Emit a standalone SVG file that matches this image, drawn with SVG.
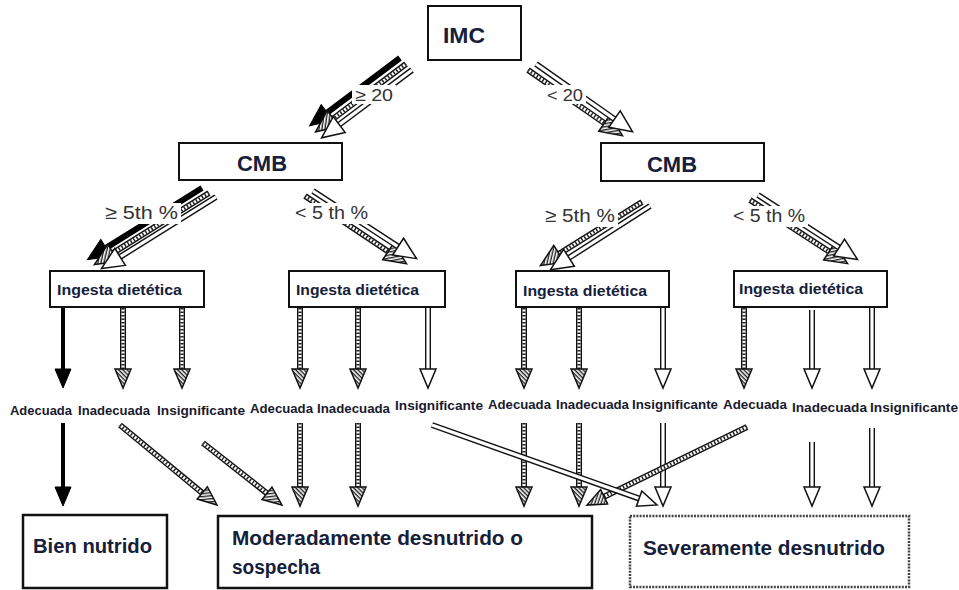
<svg xmlns="http://www.w3.org/2000/svg" width="959" height="590" viewBox="0 0 959 590">
<style>
.box{fill:#fff;stroke:#111;stroke-width:2}
.bbox{fill:#fff;stroke:#111;stroke-width:2.5}
.dbox{fill:#fff;stroke:#444;stroke-width:2.5;stroke-dasharray:2 1.2}
.nt{font-family:"Liberation Sans",Arial,sans-serif;font-weight:bold;fill:#16203a}
.lab{font-family:"Liberation Sans",Arial,sans-serif;font-weight:bold;font-size:13px;fill:#1a1a2e}
.el{font-family:"Liberation Sans",Arial,sans-serif;fill:#333}
.ho{stroke:#111;stroke-width:6;fill:none}
.hw{stroke:#fff;stroke-width:3.2;fill:none}
.hd{stroke:#222;stroke-width:3.2;stroke-dasharray:1.5 2;fill:none}
.so{stroke:#000;stroke-width:4;fill:none}
.sb{stroke:#000;stroke-width:6;fill:none}
</style>
<defs>
<pattern id="hatch" width="3" height="3" patternUnits="userSpaceOnUse" patternTransform="rotate(45)"><rect width="3" height="3" fill="#fff"/><rect width="1.4" height="3" fill="#222"/></pattern>
<marker id="mh" markerUnits="userSpaceOnUse" markerWidth="22" markerHeight="20" viewBox="-1 -10 22 20" refX="0" refY="0" orient="auto" overflow="visible"><path d="M0,-8 L19,0 L0,8 Z" fill="url(#hatch)" stroke="#111" stroke-width="1.5"/></marker>
<marker id="mo" markerUnits="userSpaceOnUse" markerWidth="22" markerHeight="20" viewBox="-1 -10 22 20" refX="0" refY="0" orient="auto" overflow="visible"><path d="M0,-8 L19,0 L0,8 Z" fill="#fff" stroke="#111" stroke-width="1.5"/></marker>
<marker id="ms" markerUnits="userSpaceOnUse" markerWidth="22" markerHeight="20" viewBox="-1 -10 22 20" refX="0" refY="0" orient="auto" overflow="visible"><path d="M0,-8 L19,0 L0,8 Z" fill="#000" stroke="#000" stroke-width="1"/></marker>
<marker id="mhL" markerUnits="userSpaceOnUse" markerWidth="26" markerHeight="24" viewBox="-1 -12 26 24" refX="0" refY="0" orient="auto" overflow="visible"><path d="M0,-10 L22,0 L0,10 Z" fill="url(#hatch)" stroke="#111" stroke-width="1.5"/></marker>
<marker id="moL" markerUnits="userSpaceOnUse" markerWidth="26" markerHeight="24" viewBox="-1 -12 26 24" refX="0" refY="0" orient="auto" overflow="visible"><path d="M0,-10 L22,0 L0,10 Z" fill="#fff" stroke="#111" stroke-width="1.5"/></marker>
<marker id="msL" markerUnits="userSpaceOnUse" markerWidth="26" markerHeight="24" viewBox="-1 -12 26 24" refX="0" refY="0" orient="auto" overflow="visible"><path d="M0,-10 L22,0 L0,10 Z" fill="#000" stroke="#000" stroke-width="1"/></marker>
</defs>
<rect width="959" height="590" fill="#fff"/>

<g id="connectors">
<!-- IMC to left CMB -->
<g><path class="sb" d="M400,58 L327.2,112.6" marker-end="url(#msL)"/></g>
<g><path class="ho" d="M406,64 L333.2,118.6"/><path class="hw" d="M406,64 L333.2,118.6"/><path class="hd" d="M406,64 L333.2,118.6" marker-end="url(#mhL)"/></g>
<g><path class="ho" d="M412,70 L339.2,124.6"/><path class="hw" d="M412,70 L339.2,124.6" marker-end="url(#moL)"/></g>
<!-- IMC to right CMB -->
<g><path class="ho" d="M528,70 L604.4,123.1"/><path class="hw" d="M528,70 L604.4,123.1"/><path class="hd" d="M528,70 L604.4,123.1" marker-end="url(#mhL)"/></g>
<g><path class="ho" d="M536,64 L614.5,119.1"/><path class="hw" d="M536,64 L614.5,119.1" marker-end="url(#moL)"/></g>
<!-- left CMB to box1 -->
<g><path class="sb" d="M202,188 L106.1,247.9" marker-end="url(#msL)"/></g>
<g><path class="ho" d="M209,193 L113.1,252.9"/><path class="hw" d="M209,193 L113.1,252.9"/><path class="hd" d="M209,193 L113.1,252.9" marker-end="url(#mhL)"/></g>
<g><path class="ho" d="M216,197 L120.1,256.9"/><path class="hw" d="M216,197 L120.1,256.9" marker-end="url(#moL)"/></g>
<!-- left CMB to box2 -->
<g><path class="ho" d="M305,196 L388.2,251.5"/><path class="hw" d="M305,196 L388.2,251.5"/><path class="hd" d="M305,196 L388.2,251.5" marker-end="url(#mhL)"/></g>
<g><path class="ho" d="M313,191 L398.1,246.6"/><path class="hw" d="M313,191 L398.1,246.6" marker-end="url(#moL)"/></g>
<!-- right CMB to box3 -->
<g><path class="ho" d="M642,202 L559.1,253.9"/><path class="hw" d="M642,202 L559.1,253.9"/><path class="hd" d="M642,202 L559.1,253.9" marker-end="url(#mhL)"/></g>
<g><path class="ho" d="M650,206 L569,257.8"/><path class="hw" d="M650,206 L569,257.8" marker-end="url(#moL)"/></g>
<!-- right CMB to box4 -->
<g><path class="ho" d="M750,200 L829.1,251.6"/><path class="hw" d="M750,200 L829.1,251.6"/><path class="hd" d="M750,200 L829.1,251.6" marker-end="url(#mhL)"/></g>
<g><path class="ho" d="M758,195 L839.1,247.6"/><path class="hw" d="M758,195 L839.1,247.6" marker-end="url(#moL)"/></g>

<!-- ingesta to categories -->
<g><path class="so" d="M63,308 L63,369" marker-end="url(#ms)"/></g>
<g><path class="ho" d="M123,308 L123,369"/><path class="hw" d="M123,308 L123,369"/><path class="hd" d="M123,308 L123,369" marker-end="url(#mh)"/></g>
<g><path class="ho" d="M182,308 L182,369"/><path class="hw" d="M182,308 L182,369"/><path class="hd" d="M182,308 L182,369" marker-end="url(#mh)"/></g>
<g><path class="ho" d="M300,308 L300,369"/><path class="hw" d="M300,308 L300,369"/><path class="hd" d="M300,308 L300,369" marker-end="url(#mh)"/></g>
<g><path class="ho" d="M358,308 L358,369"/><path class="hw" d="M358,308 L358,369"/><path class="hd" d="M358,308 L358,369" marker-end="url(#mh)"/></g>
<g><path class="ho" d="M428,308 L428,369"/><path class="hw" d="M428,308 L428,369" marker-end="url(#mo)"/></g>
<g><path class="ho" d="M524,308 L524,369"/><path class="hw" d="M524,308 L524,369"/><path class="hd" d="M524,308 L524,369" marker-end="url(#mh)"/></g>
<g><path class="ho" d="M579,308 L579,369"/><path class="hw" d="M579,308 L579,369"/><path class="hd" d="M579,308 L579,369" marker-end="url(#mh)"/></g>
<g><path class="ho" d="M663,308 L663,369"/><path class="hw" d="M663,308 L663,369" marker-end="url(#mo)"/></g>
<g><path class="ho" d="M744,308 L744,369"/><path class="hw" d="M744,308 L744,369"/><path class="hd" d="M744,308 L744,369" marker-end="url(#mh)"/></g>
<g><path class="ho" d="M812,310 L812,369"/><path class="hw" d="M812,310 L812,369" marker-end="url(#mo)"/></g>
<g><path class="ho" d="M872,308 L872,369"/><path class="hw" d="M872,308 L872,369" marker-end="url(#mo)"/></g>

<!-- categories to outcomes -->
<g><path class="so" d="M63,423 L63,487" marker-end="url(#ms)"/></g>
<g><path class="ho" d="M120,425 L202.3,492.9"/><path class="hw" d="M120,425 L202.3,492.9"/><path class="hd" d="M120,425 L202.3,492.9" marker-end="url(#mh)"/></g>
<g><path class="ho" d="M203,443 L267,493.3"/><path class="hw" d="M203,443 L267,493.3"/><path class="hd" d="M203,443 L267,493.3" marker-end="url(#mh)"/></g>
<g><path class="ho" d="M300,423 L300,487"/><path class="hw" d="M300,423 L300,487"/><path class="hd" d="M300,423 L300,487" marker-end="url(#mh)"/></g>
<g><path class="ho" d="M358,423 L358,487"/><path class="hw" d="M358,423 L358,487"/><path class="hd" d="M358,423 L358,487" marker-end="url(#mh)"/></g>
<g><path class="ho" d="M524,423 L524,487"/><path class="hw" d="M524,423 L524,487"/><path class="hd" d="M524,423 L524,487" marker-end="url(#mh)"/></g>
<g><path class="ho" d="M579,423 L579,487"/><path class="hw" d="M579,423 L579,487"/><path class="hd" d="M579,423 L579,487" marker-end="url(#mh)"/></g>
<g><path class="ho" d="M663,423 L663,487"/><path class="hw" d="M663,423 L663,487" marker-end="url(#mo)"/></g>
<g><path class="ho" d="M747,427 L604.1,496.7"/><path class="hw" d="M747,427 L604.1,496.7"/><path class="hd" d="M747,427 L604.1,496.7" marker-end="url(#mh)"/></g>
<g><path class="ho" d="M432,425 L639.1,498.6"/><path class="hw" d="M432,425 L639.1,498.6" marker-end="url(#mo)"/></g>
<g><path class="ho" d="M812,442 L812,487"/><path class="hw" d="M812,442 L812,487" marker-end="url(#mo)"/></g>
<g><path class="ho" d="M872,428 L872,487"/><path class="hw" d="M872,428 L872,487" marker-end="url(#mo)"/></g>
</g>

<g id="edge-labels">
<rect x="352" y="85" width="44" height="19" fill="#fff"/>
<text class="el" x="355" y="101" font-size="17" textLength="38" lengthAdjust="spacingAndGlyphs">≥ 20</text>
<rect x="544" y="85" width="42" height="19" fill="#fff"/>
<text class="el" x="547" y="101" font-size="17" textLength="36" lengthAdjust="spacingAndGlyphs">&lt; 20</text>
<rect x="102" y="203" width="79" height="21" fill="#fff"/>
<text class="el" x="105" y="219" font-size="19" textLength="73" lengthAdjust="spacingAndGlyphs">≥ 5th %</text>
<rect x="292" y="203" width="79" height="21" fill="#fff"/>
<text class="el" x="295" y="219" font-size="19" textLength="73" lengthAdjust="spacingAndGlyphs">&lt; 5 th %</text>
<rect x="542" y="206" width="76" height="21" fill="#fff"/>
<text class="el" x="545" y="222" font-size="19" textLength="70" lengthAdjust="spacingAndGlyphs">≥ 5th %</text>
<rect x="730" y="206" width="78" height="21" fill="#fff"/>
<text class="el" x="733" y="222" font-size="19" textLength="72" lengthAdjust="spacingAndGlyphs">&lt; 5 th %</text>
</g>

<g id="node-imc"><rect class="box" x="428" y="6" width="93" height="54"/><text class="nt" x="443" y="43" font-size="22" textLength="42" lengthAdjust="spacingAndGlyphs">IMC</text></g>
<g id="node-cmb-left"><rect class="box" x="179" y="143" width="163" height="37"/><text class="nt" x="237" y="171" font-size="22" textLength="50" lengthAdjust="spacingAndGlyphs">CMB</text></g>
<g id="node-cmb-right"><rect class="box" x="601" y="143" width="163" height="38"/><text class="nt" x="647" y="172" font-size="22" textLength="50" lengthAdjust="spacingAndGlyphs">CMB</text></g>

<g id="node-ingesta-1"><rect class="box" x="50" y="271" width="154" height="36"/><text class="nt" x="57" y="295" font-size="15" textLength="125" lengthAdjust="spacingAndGlyphs">Ingesta dietética</text></g>
<g id="node-ingesta-2"><rect class="box" x="289" y="271" width="156" height="36"/><text class="nt" x="296" y="295" font-size="15" textLength="123" lengthAdjust="spacingAndGlyphs">Ingesta dietética</text></g>
<g id="node-ingesta-3"><rect class="box" x="516" y="271" width="153" height="36"/><text class="nt" x="523" y="296" font-size="15" textLength="124" lengthAdjust="spacingAndGlyphs">Ingesta dietética</text></g>
<g id="node-ingesta-4"><rect class="box" x="734" y="271" width="153" height="36"/><text class="nt" x="739" y="294" font-size="15" textLength="124" lengthAdjust="spacingAndGlyphs">Ingesta dietética</text></g>

<g id="category-labels">
<text class="lab" x="10" y="415" textLength="62" lengthAdjust="spacingAndGlyphs">Adecuada</text>
<text class="lab" x="78" y="415" textLength="72" lengthAdjust="spacingAndGlyphs">Inadecuada</text>
<text class="lab" x="157" y="415" textLength="88" lengthAdjust="spacingAndGlyphs">Insignificante</text>
<text class="lab" x="250" y="413" textLength="63" lengthAdjust="spacingAndGlyphs">Adecuada</text>
<text class="lab" x="317" y="413" textLength="73" lengthAdjust="spacingAndGlyphs">Inadecuada</text>
<text class="lab" x="395" y="410" textLength="88" lengthAdjust="spacingAndGlyphs">Insignificante</text>
<text class="lab" x="488" y="409" textLength="63" lengthAdjust="spacingAndGlyphs">Adecuada</text>
<text class="lab" x="556" y="409" textLength="73" lengthAdjust="spacingAndGlyphs">Inadecuada</text>
<text class="lab" x="632" y="409" textLength="86" lengthAdjust="spacingAndGlyphs">Insignificante</text>
<text class="lab" x="723" y="409" textLength="64" lengthAdjust="spacingAndGlyphs">Adecuada</text>
<text class="lab" x="792" y="412" textLength="75" lengthAdjust="spacingAndGlyphs">Inadecuada</text>
<text class="lab" x="870" y="412" textLength="88" lengthAdjust="spacingAndGlyphs">Insignificante</text>
</g>

<g id="node-bien"><rect class="bbox" x="23" y="515" width="144" height="73"/><text class="nt" x="33" y="553" font-size="20" textLength="119" lengthAdjust="spacingAndGlyphs">Bien nutrido</text></g>
<g id="node-moderado"><rect class="bbox" x="218" y="516" width="374" height="72"/><text class="nt" x="232" y="545" font-size="20" textLength="291" lengthAdjust="spacingAndGlyphs">Moderadamente desnutrido o</text><text class="nt" x="232" y="574" font-size="20" textLength="88" lengthAdjust="spacingAndGlyphs">sospecha</text></g>
<g id="node-severo"><rect class="dbox" x="630" y="516" width="279" height="71"/><text class="nt" x="643" y="555" font-size="20" textLength="242" lengthAdjust="spacingAndGlyphs">Severamente desnutrido</text></g>
</svg>
